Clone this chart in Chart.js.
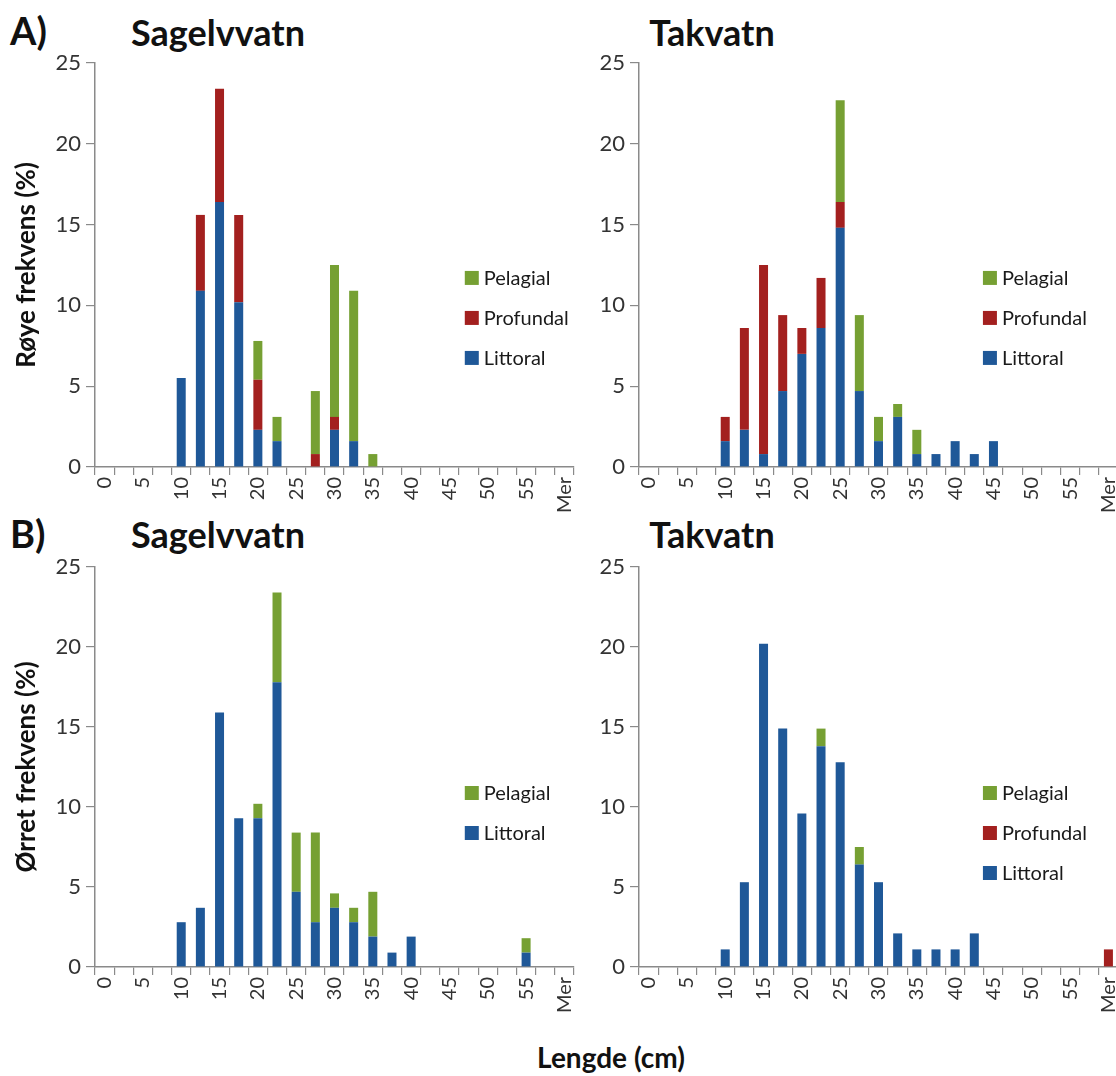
<!DOCTYPE html>
<html>
<head>
<meta charset="utf-8">
<script src="https://cdn.jsdelivr.net/npm/chart.js@4.4.1/dist/chart.umd.min.js"></script>
<style>
  html, body { margin: 0; padding: 0; background: #fff; overflow: hidden; }
  body { width: 1116px; height: 1076px; position: relative; font-family: Lato, "Open Sans", sans-serif; }
  .panel { position: absolute; width: 580px; height: 515px; }
  .lbl { position: absolute; font-weight: bold; color: #111; white-space: nowrap; }
  .tag { font-size: 38px; }
  .ttl { font-size: 36px; transform: translateX(-50%); }
  .xname { font-size: 28px; transform: translateX(-50%); }
</style>
</head>
<body>
<div class="lbl tag" style="left:10px; top:7px;">A)</div>
<div class="lbl ttl" style="left:218px; top:10px;">Sagelvvatn</div>
<div class="lbl ttl" style="left:712px; top:10px;">Takvatn</div>
<div class="lbl tag" style="left:10px; top:510px;">B)</div>
<div class="lbl ttl" style="left:218px; top:512px;">Sagelvvatn</div>
<div class="lbl ttl" style="left:712px; top:512px;">Takvatn</div>
<div class="lbl xname" style="left:611px; top:1040px;">Lengde (cm)</div>

<div class="panel" style="left:0px; top:0px;"><canvas id="roeyeSag"></canvas></div>
<div class="panel" style="left:544px; top:0px;"><canvas id="roeyeTak"></canvas></div>
<div class="panel" style="left:0px; top:504px;"><canvas id="oerretSag"></canvas></div>
<div class="panel" style="left:544px; top:504px;"><canvas id="oerretTak"></canvas></div>

<script>
// length bins (cm), only every other one gets a label on the axis
const lengthBins = ["0", "2,5", "5", "7,5", "10", "12,5", "15", "17,5", "20", "22,5", "25", "27,5",
  "30", "32,5", "35", "37,5", "40", "42,5", "45", "47,5", "50", "52,5", "55", "57,5", "Mer"];

// røye (arctic charr), Sagelvvatn - % per habitat
const roeyeSagLittoral  = [0, 0, 0, 0, 5.5, 10.9, 16.4, 10.2, 2.3, 1.6, 0, 0, 2.3, 1.6, 0, 0, 0, 0, 0, 0, 0, 0, 0, 0, 0];
const roeyeSagProfundal = [0, 0, 0, 0, 0, 4.7, 7.0, 5.4, 3.1, 0, 0, 0.8, 0.8, 0, 0, 0, 0, 0, 0, 0, 0, 0, 0, 0, 0];
const roeyeSagPelagial  = [0, 0, 0, 0, 0, 0, 0, 0, 2.4, 1.5, 0, 3.9, 9.4, 9.3, 0.8, 0, 0, 0, 0, 0, 0, 0, 0, 0, 0];

// røye, Takvatn
const roeyeTakLittoral  = [0, 0, 0, 0, 1.6, 2.3, 0.8, 4.7, 7.0, 8.6, 14.8, 4.7, 1.6, 3.1, 0.8, 0.8, 1.6, 0.8, 1.6, 0, 0, 0, 0, 0, 0];
const roeyeTakProfundal = [0, 0, 0, 0, 1.5, 6.3, 11.7, 4.7, 1.6, 3.1, 1.6, 0, 0, 0, 0, 0, 0, 0, 0, 0, 0, 0, 0, 0, 0];
const roeyeTakPelagial  = [0, 0, 0, 0, 0, 0, 0, 0, 0, 0, 6.3, 4.7, 1.5, 0.8, 1.5, 0, 0, 0, 0, 0, 0, 0, 0, 0, 0];

// ørret (brown trout), Sagelvvatn
const oerretSagLittoral = [0, 0, 0, 0, 2.8, 3.7, 15.9, 9.3, 9.3, 17.8, 4.7, 2.8, 3.7, 2.8, 1.9, 0.9, 1.9, 0, 0, 0, 0, 0, 0.9, 0, 0];
const oerretSagPelagial = [0, 0, 0, 0, 0, 0, 0, 0, 0.9, 5.6, 3.7, 5.6, 0.9, 0.9, 2.8, 0, 0, 0, 0, 0, 0, 0, 0.9, 0, 0];

// ørret, Takvatn
const oerretTakLittoral  = [0, 0, 0, 0, 1.1, 5.3, 20.2, 14.9, 9.6, 13.8, 12.8, 6.4, 5.3, 2.1, 1.1, 1.1, 1.1, 2.1, 0, 0, 0, 0, 0, 0, 0];
const oerretTakProfundal = [0, 0, 0, 0, 0, 0, 0, 0, 0, 0, 0, 0, 0, 0, 0, 0, 0, 0, 0, 0, 0, 0, 0, 0, 1.1];
const oerretTakPelagial  = [0, 0, 0, 0, 0, 0, 0, 0, 0, 1.1, 0, 1.1, 0, 0, 0, 0, 0, 0, 0, 0, 0, 0, 0, 0, 0];

const yTicks = [0, 5, 10, 15, 20, 25];

const BLUE = "#1f5898";
const RED = "#a3201f";
const GREEN = "#76a033";
const AXIS = "#8a8a8a";
const FONT = "Lato, 'Open Sans', sans-serif";

// legend drawn on top of the plot area, Pelagial first
const insideLegend = {
  id: "insideLegend",
  afterDraw(chart, args, opts) {
    const { ctx, chartArea } = chart;
    const x = chartArea.left + opts.x * (chartArea.right - chartArea.left);
    let y = chartArea.top + opts.y * (chartArea.bottom - chartArea.top);
    ctx.save();
    ctx.font = "20px " + FONT;
    ctx.textBaseline = "middle";
    ctx.textAlign = "left";
    const sets = chart.data.datasets;
    for (let i = sets.length - 1; i >= 0; i--) {
      ctx.fillStyle = sets[i].backgroundColor;
      ctx.fillRect(x, y - 7, 14, 14);
      ctx.fillStyle = "#1a1a1a";
      ctx.fillText(sets[i].label, x + 19, y + 1);
      y += 40;
    }
    ctx.restore();
  }
};

function makePanel(id, datasets, yTitle, legendX, legendY, plotBottom) {
  new Chart(document.getElementById(id), {
    type: "bar",
    data: { labels: lengthBins, datasets: datasets },
    plugins: [insideLegend],
    options: {
      responsive: true,
      maintainAspectRatio: false,
      animation: false,
      layout: { padding: { left: 0, top: 63, right: 6, bottom: 0 } },
      plugins: {
        legend: { display: false },
        tooltip: { enabled: false },
        insideLegend: { x: legendX, y: legendY }
      },
      datasets: { bar: { categoryPercentage: 1, barPercentage: 0.47 } },
      scales: {
        x: {
          stacked: true,
          afterFit(scale) { scale.height = 515 - plotBottom; scale.paddingLeft = 0; scale.paddingRight = 0; },
          border: { color: AXIS, width: 1.5 },
          grid: { offset: true, drawOnChartArea: false, color: AXIS, tickLength: 8, lineWidth: 1.2 },
          ticks: {
            autoSkip: false, maxRotation: 90, minRotation: 90, padding: 2,
            color: "#333", font: { family: FONT, size: 20 },
            callback: (v, i) => (i % 2 === 0 ? lengthBins[i] : "")
          }
        },
        y: {
          stacked: true,
          min: 0, max: 25,
          afterFit(scale) { scale.width = 95; scale.paddingTop = 0; scale.paddingBottom = 0; },
          afterBuildTicks(scale) { scale.ticks = yTicks.map(v => ({ value: v })); },
          border: { color: AXIS, width: 1.5 },
          grid: { drawOnChartArea: false, color: AXIS, tickLength: 9, lineWidth: 1.2 },
          ticks: { padding: 5, color: "#333", font: { family: FONT, size: 22 } },
          title: {
            display: yTitle !== "",
            text: yTitle,
            color: "#111",
            padding: { top: 11, bottom: 0 },
            font: { family: FONT, size: 26, weight: "bold" }
          }
        }
      }
    }
  });
}

function ds(label, data, color) {
  return { label: label, data: data, backgroundColor: color };
}

makePanel("roeyeSag", [
  ds("Littoral", roeyeSagLittoral, BLUE),
  ds("Profundal", roeyeSagProfundal, RED),
  ds("Pelagial", roeyeSagPelagial, GREEN)
], "Røye frekvens (%)", 0.772, 0.532, 467);

makePanel("roeyeTak", [
  ds("Littoral", roeyeTakLittoral, BLUE),
  ds("Profundal", roeyeTakProfundal, RED),
  ds("Pelagial", roeyeTakPelagial, GREEN)
], "", 0.718, 0.532, 467);

makePanel("oerretSag", [
  ds("Littoral", oerretSagLittoral, BLUE),
  ds("Pelagial", oerretSagPelagial, GREEN)
], "Ørret frekvens (%)", 0.772, 0.565, 463);

makePanel("oerretTak", [
  ds("Littoral", oerretTakLittoral, BLUE),
  ds("Profundal", oerretTakProfundal, RED),
  ds("Pelagial", oerretTakPelagial, GREEN)
], "", 0.718, 0.565, 463);
</script>
</body>
</html>
